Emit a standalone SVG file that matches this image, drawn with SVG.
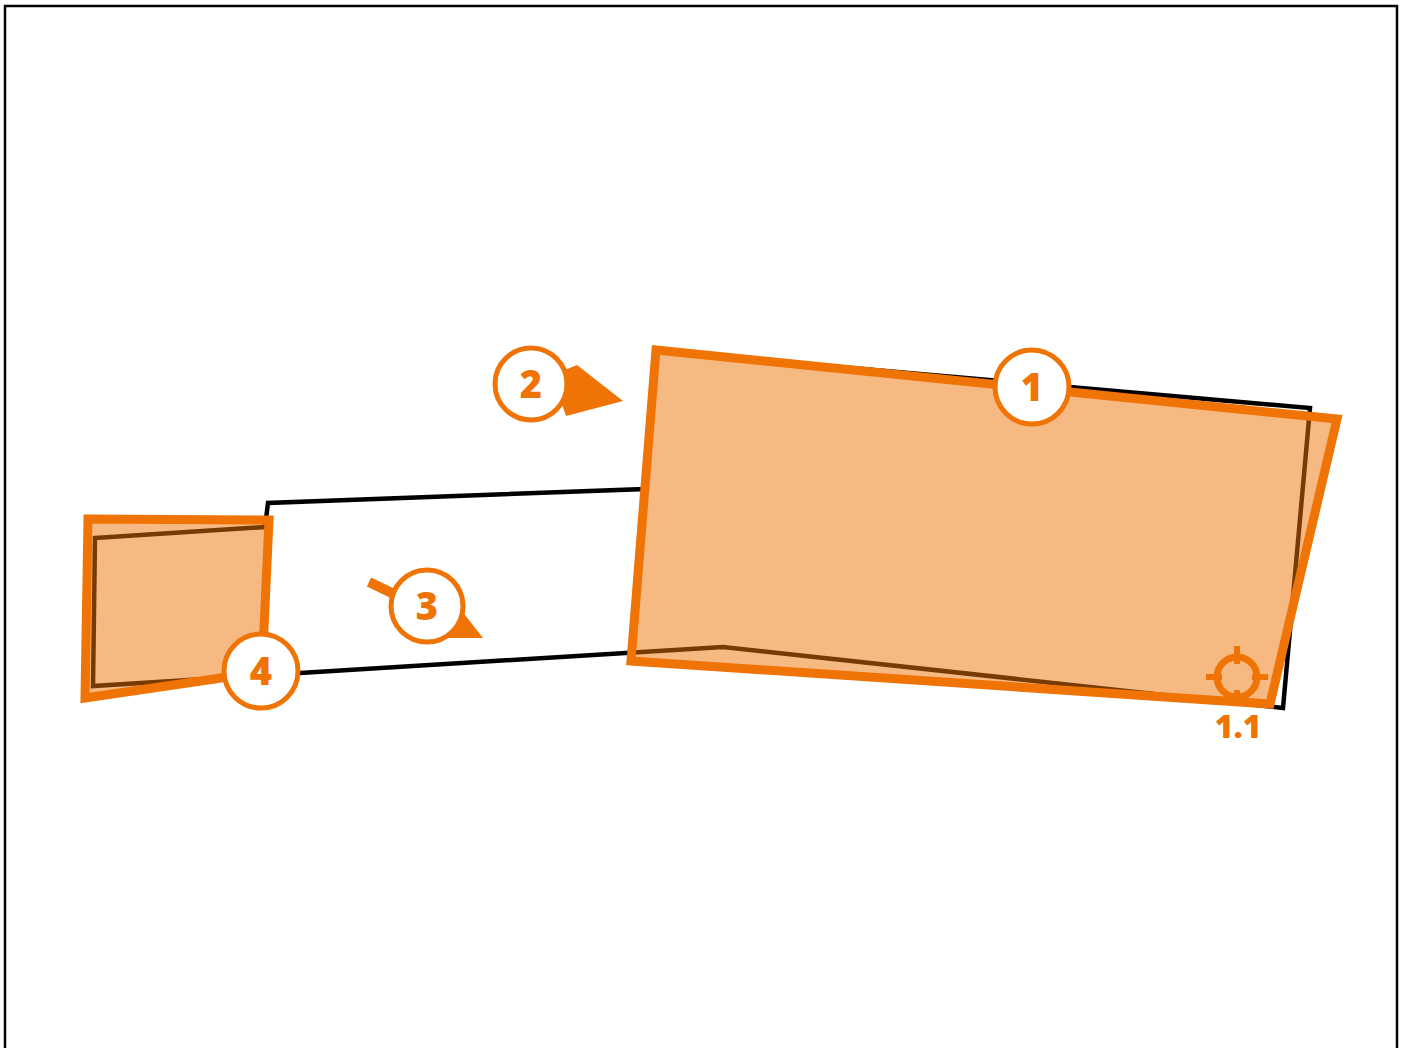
<svg xmlns="http://www.w3.org/2000/svg" width="1405" height="1048" viewBox="0 0 1405 1048">
<style>
.frame{fill:none;stroke:#000;stroke-width:2.5}
.base{fill:none;stroke:#000;stroke-width:4.5;stroke-linejoin:miter}
.area{fill:#f07305;fill-opacity:0.5;stroke:#f07305;stroke-width:9;stroke-linejoin:miter}
.badge circle{fill:#fff;stroke:#f07305;stroke-width:5}
.lbl{font-family:"Open Sans","Noto Sans","Liberation Sans",sans-serif;font-weight:800;fill:#f07305;text-anchor:middle}
.ptr{fill:#f07305}
</style>
<rect class="frame" x="5" y="6" width="1392" height="1060"/>
<g id="outline">
<path class="base" d="M95,538 L265,527 L268,503 L644,489 L656,351 L1310,408 L1283,708 L723,647 L300,673 L93,686 Z"/>
</g>
<g id="area-4">
<polygon class="area" points="88,519 269,520 262,672 85,698"/>
</g>
<g id="area-1">
<polygon class="area" points="656,350 1337,419 1270,704 631,661"/>
</g>
<g id="connectors">
<polygon class="ptr" points="560,372 577,365 623,401 566,416 560,398"/>
<line x1="369" y1="582" x2="400" y2="597" stroke="#f07305" stroke-width="10"/>
<polygon class="ptr" points="452,612 465,615 483,638 447,638"/>
</g>
<g id="marker-1.1">
<circle cx="1237" cy="677" r="20" fill="none" stroke="#f07305" stroke-width="7"/>
<g stroke="#f07305" stroke-width="6">
<line x1="1237" y1="646" x2="1237" y2="664"/>
<line x1="1237" y1="690" x2="1237" y2="699"/>
<line x1="1206" y1="677" x2="1222" y2="677"/>
<line x1="1252" y1="677" x2="1268" y2="677"/>
</g>
<text class="lbl" x="1238" y="738" font-size="32">1.1</text>
</g>
<g id="badge-1" class="badge">
<circle cx="1032" cy="387" r="37"/>
<text class="lbl" x="1032" y="401" font-size="38">1</text>
</g>
<g id="badge-2" class="badge">
<circle cx="531" cy="384" r="36"/>
<text class="lbl" x="531" y="398" font-size="38">2</text>
</g>
<g id="badge-3" class="badge">
<circle cx="427" cy="606" r="36"/>
<text class="lbl" x="427" y="620" font-size="38">3</text>
</g>
<g id="badge-4" class="badge">
<circle cx="261" cy="671" r="37"/>
<text class="lbl" x="261" y="685" font-size="38">4</text>
</g>
</svg>
